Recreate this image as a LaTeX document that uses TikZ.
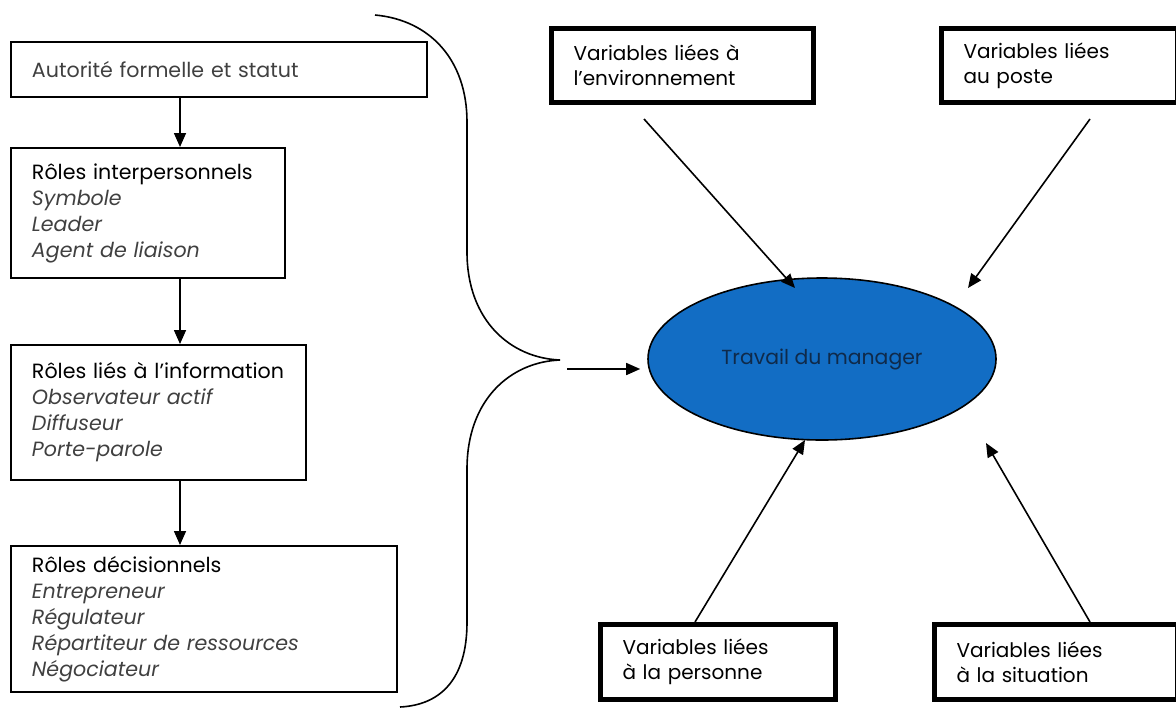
\documentclass[tikz,border=0pt]{standalone}
\usepackage{fontspec}
\setmainfont{Poppins}
\usepackage{tikz}
\usetikzlibrary{arrows.meta,shapes.geometric,calc}

\definecolor{mblue}{RGB}{18,109,196}
\definecolor{mtext}{RGB}{15,42,74}
\definecolor{itemgray}{RGB}{64,64,64}

\tikzset{
  rolebox/.style={draw,line width=1pt,anchor=north west,align=left,inner xsep=10.5pt,inner ysep=0pt},
  varbox/.style={draw,line width=2.5pt,anchor=north west,align=left,inner xsep=11pt,inner ysep=0pt,font=\fontsize{10}{12.5}\selectfont},
  arr/.style={-{Triangle[length=7pt,width=6pt]},line width=0.8pt}
}
\newcommand{\roleitem}[1]{\textcolor{itemgray}{\itshape #1}}

\begin{document}
\begin{tikzpicture}[x=0.5pt,y=-0.5pt,font=\fontsize{10.3}{13}\selectfont]
	\useasboundingbox (0,0) rectangle (1176,707);

	% roles, left column
	\node[rolebox,text width=187pt,minimum height=27.5pt] (auto) at (10,41)
		{\textcolor{itemgray}{Autorité formelle et statut}};
	\node[rolebox,text width=116pt,minimum height=65pt] (inter) at (10,147)
		{Rôles interpersonnels\\ \roleitem{Symbole}\\ \roleitem{Leader}\\ \roleitem{Agent de liaison}};
	\node[rolebox,text width=126.5pt,minimum height=67.5pt] (info) at (10,344)
		{\mbox{Rôles liés à l’information}\\ \roleitem{Observateur actif}\\ \roleitem{Diffuseur}\\ \roleitem{Porte-parole}};
	\node[rolebox,text width=172pt,minimum height=73pt] (deci) at (10,545)
		{Rôles décisionnels\\ \roleitem{Entrepreneur}\\ \roleitem{Régulateur}\\ \roleitem{Répartiteur de ressources}\\ \roleitem{Négociateur}};

	\coordinate (col) at (180,0);
	\draw[arr] (auto.south -| col) -- (inter.north -| col);
	\draw[arr] (inter.south -| col) -- (info.north -| col);
	\draw[arr] (info.south -| col) -- (deci.north -| col);

	% accolade
	\draw[line width=0.8pt] (375,15) .. controls (430,20) and (467,60) .. (467,122) -- (467,252)
		.. controls (467,320) and (510,358) .. (560,360)
		.. controls (510,362) and (467,400) .. (467,469) -- (467,622)
		.. controls (467,680) and (440,705) .. (400,707);

	% centre
	\node[ellipse,draw,line width=0.8pt,fill=mblue,text=mtext,minimum width=174pt,minimum height=81pt,font=\fontsize{10.2}{13}\selectfont] (manager) at (822,359)
		{Travail du manager};

	\coordinate (brace) at (567,369);
	\draw[arr] (brace) -- ($(brace -| manager.west)+(-7,0)$);

	% variables
	\node[varbox,text width=109pt,minimum height=37pt] (env) at (549,26)
		{Variables liées à\\ l’environnement};
	\node[varbox,text width=96pt,minimum height=37pt] (poste) at (939,26)
		{Variables liées\\ au poste};
	\node[varbox,text width=95.5pt,minimum height=37.5pt] (pers) at (598,622)
		{Variables liées\\ à la personne};
	\node[varbox,text width=99.5pt,minimum height=37.5pt] (situ) at (932,622)
		{Variables liées\\ à la situation};

	\draw[arr] ($(env.south)+(-38.5,14)$) -- ($(manager.center)+(-27,-71)$);
	\draw[arr] ($(poste.south)+(30.5,14)$) -- ($(manager.center)+(146,-71)$);
	\draw[arr] ($(pers.north)+(-23,0)$) -- ($(manager.center)+(-17,81)$);
	\draw[arr] ($(situ.north)+(34,0)$) -- ($(manager.center)+(164,84)$);
\end{tikzpicture}
\end{document}
